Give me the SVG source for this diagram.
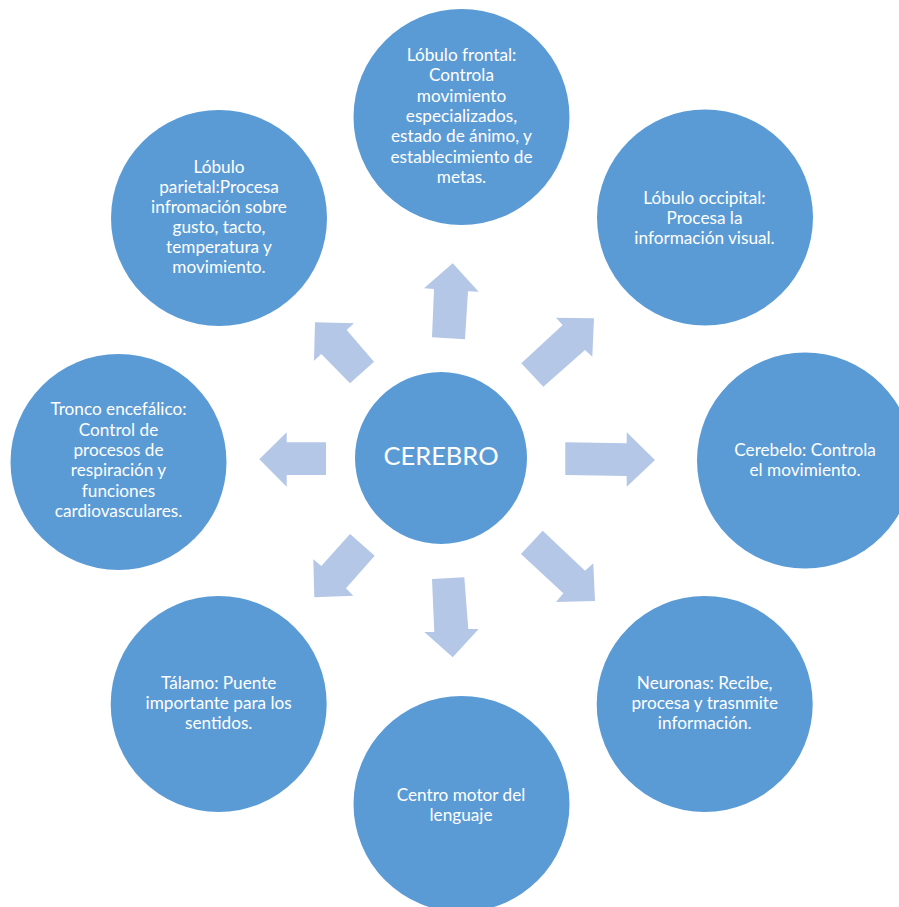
<svg xmlns="http://www.w3.org/2000/svg" width="899" height="907" viewBox="0 0 899 907">
<style>
.node circle{fill:#5B9BD5}
.node text{fill:#FFFFFF;font-family:Lato,"Liberation Sans",sans-serif;font-size:17.2px;text-anchor:middle}
#cerebro text{font-size:25.5px}
.arrow{fill:#B4C7E7}
</style>
<rect width="899" height="907" fill="#FFFFFF"/>
<g id="connectors">
<polygon class="arrow" points="432,337.3 434,289 424,288.3 452.7,263.3 478.7,291.7 468,291.3 465,339.3"/>
<polygon class="arrow" points="521.3,363.3 562.7,325 556,317.7 594,318.3 592.3,356.7 585,350 543.3,386.7"/>
<polygon class="arrow" points="565.3,442.3 626.7,443.3 626.7,432.3 655,460 626.7,486.7 626.7,476 565.3,475"/>
<polygon class="arrow" points="542.7,530.7 585,570.7 593.3,563.3 595,601 556,602 563.3,593.3 521,554"/>
<polygon class="arrow" points="464.3,577.3 468.3,629 478.7,629 452.7,657.3 424.3,632 434.3,632 432,579"/>
<polygon class="arrow" points="374.7,555.7 346,588.3 353.3,595.7 314.3,597.3 313.3,559.3 321.3,566 350,534"/>
<polygon class="arrow" points="326,475 286.7,475 286.7,486.7 259.3,459.3 286.7,432.3 286.7,442.3 326,442.3"/>
<polygon class="arrow" points="350,383.3 321.3,354 314,360.7 315,322.3 354,323.3 346.7,330 374,361.7"/>
</g>
<g id="cerebro" class="node">
<circle cx="441" cy="458" r="86"/>
<text x="441" y="464.5">CEREBRO</text>
</g>
<g id="frontal" class="node">
<circle cx="461.5" cy="117" r="108"/>
<text x="461.5" y="61">Lóbulo frontal:</text>
<text x="461.5" y="81.3">Controla</text>
<text x="461.5" y="101.6">movimiento</text>
<text x="461.5" y="121.9">especializados,</text>
<text x="461.5" y="142.2">estado de ánimo, y</text>
<text x="461.5" y="162.5">establecimiento de</text>
<text x="461.5" y="182.8">metas.</text>
</g>
<g id="occipital" class="node">
<circle cx="705" cy="217.5" r="108"/>
<text x="704.5" y="204">Lóbulo occipital:</text>
<text x="704.5" y="224">Procesa la</text>
<text x="704.5" y="244">información visual.</text>
</g>
<g id="cerebelo" class="node">
<circle cx="805" cy="460.5" r="108"/>
<text x="805" y="456">Cerebelo: Controla</text>
<text x="805" y="476">el movimiento.</text>
</g>
<g id="neuronas" class="node">
<circle cx="704.7" cy="704" r="108"/>
<text x="704.7" y="689">Neuronas: Recibe,</text>
<text x="704.7" y="709">procesa y trasnmite</text>
<text x="704.7" y="729">información.</text>
</g>
<g id="centro-motor" class="node">
<circle cx="461.5" cy="804" r="108"/>
<text x="461" y="800.7">Centro motor del</text>
<text x="461" y="820.5">lenguaje</text>
</g>
<g id="talamo" class="node">
<circle cx="218.7" cy="704" r="108"/>
<text x="218.7" y="689">Tálamo: Puente</text>
<text x="218.7" y="709">importante para los</text>
<text x="218.7" y="729.3">sentidos.</text>
</g>
<g id="tronco" class="node">
<circle cx="118.5" cy="462" r="108"/>
<text x="118.5" y="415">Tronco encefálico:</text>
<text x="118.5" y="435.5">Control de</text>
<text x="118.5" y="456">procesos de</text>
<text x="118.5" y="476.3">respiración y</text>
<text x="118.5" y="496.7">funciones</text>
<text x="118.5" y="516.8">cardiovasculares.</text>
</g>
<g id="parietal" class="node">
<circle cx="219" cy="218" r="108"/>
<text x="219" y="172.7">Lóbulo</text>
<text x="219" y="192.8">parietal:Procesa</text>
<text x="219" y="212.9">infromación sobre</text>
<text x="219" y="233">gusto, tacto,</text>
<text x="219" y="253.1">temperatura y</text>
<text x="219" y="273.3">movimiento.</text>
</g>
</svg>
